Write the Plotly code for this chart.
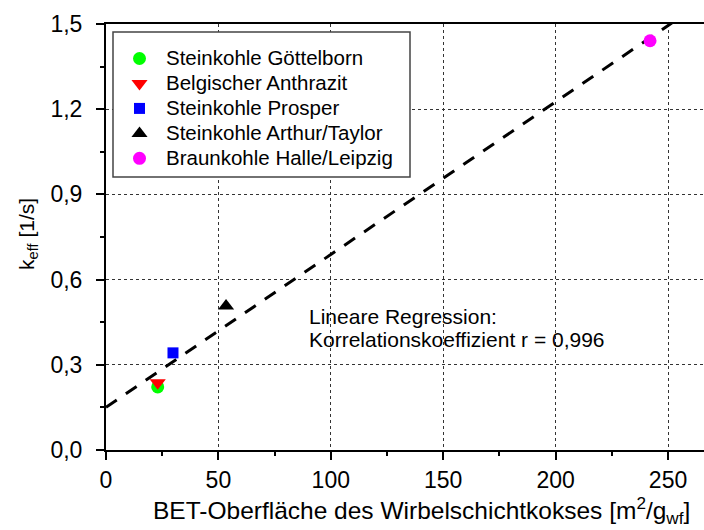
import numpy as np
import plotly.graph_objects as go

# ---- data ----
series_names = ["Steinkohle Göttelborn", "Belgischer Anthrazit", "Steinkohle Prosper",
                "Steinkohle Arthur/Taylor", "Braunkohle Halle/Leipzig"]
bet_surface = [23.0, 23.0, 29.8, 53.4, 242.0]      # m²/g_wf
k_eff = [0.222, 0.237, 0.342, 0.507, 1.441]          # 1/s
marker_symbols = ["circle", "triangle-down", "square", "triangle-up", "circle"]
marker_colors = ["#00FF00", "#FF0000", "#0000FF", "#000000", "#FF00FF"]
marker_sizes = [13, 14, 11, 14, 13]

x_ticks = [0, 50, 100, 150, 200, 250]
y_ticks = [0.0, 0.3, 0.6, 0.9, 1.2, 1.5]

FONT = "Liberation Sans, Arial, sans-serif"

# layout geometry (pixels)
W, H = 704, 530
ML, MR, MT, MB = 106, 0, 24, 80
PW, PH = W - ML - MR, H - MT - MB
XMAX, YMAX = 266, 1.5

def px_x(p):
    return (p - ML) / PW

def px_y(p):
    return (H - MB - p) / PH

fig = go.Figure()

# linear regression from data
slope, intercept = np.polyfit(bet_surface, k_eff, 1)
xr = np.array([0, XMAX])
fig.add_trace(go.Scatter(x=xr, y=intercept + slope * xr, mode="lines",
                         line=dict(color="black", width=3, dash="13px,11px"),
                         showlegend=False, hoverinfo="skip"))

for name, x, y, sym, col, sz in zip(series_names, bet_surface, k_eff,
                                     marker_symbols, marker_colors, marker_sizes):
    fig.add_trace(go.Scatter(x=[x], y=[y], mode="markers",
                             name=f"<span style='font-size:20.5px'>{name}</span>",
                             marker=dict(symbol=sym, color=col, size=sz,
                                         line=dict(width=0))))

axis_common = dict(showline=True, linecolor="black", linewidth=2,
                   ticks="outside", ticklen=8, tickwidth=2, tickcolor="black",
                   showgrid=True, gridcolor="#333", gridwidth=1, griddash="dot",
                   zeroline=False, tickfont=dict(family=FONT, size=23, color="black"))

fig.update_layout(
    width=W, height=H,
    margin=dict(l=ML, r=MR, t=MT, b=MB, pad=0),
    paper_bgcolor="white", plot_bgcolor="white",
    separators=",.",
    font=dict(family=FONT, color="black"),
    xaxis=dict(range=[0, XMAX], tickvals=x_ticks, mirror=True,
               minor=dict(dtick=25, ticklen=4, tickwidth=2, ticks="outside",
                          tickcolor="black", showgrid=False),
               **axis_common),
    yaxis=dict(range=[0, YMAX], tickvals=y_ticks, tickformat=".1f", mirror=False,
               ticklabelstandoff=9,
               minor=dict(dtick=0.15, ticklen=4, tickwidth=2, ticks="outside",
                          tickcolor="black", showgrid=False),
               **axis_common),
    legend=dict(x=px_x(113), y=px_y(41), xanchor="left", yanchor="top",
                bgcolor="rgba(0,0,0,0)", borderwidth=0,
                font=dict(family=FONT, size=16.9, color="black"),
                itemwidth=43, tracegroupgap=0),
    showlegend=True,
)

# legend frame
fig.add_shape(type="rect", xref="paper", yref="paper",
              x0=px_x(113), x1=px_x(410), y0=px_y(177), y1=px_y(32),
              line=dict(color="#444", width=1.5), fillcolor="white", layer="above")

# axis titles
fig.add_annotation(text="k<sub>eff</sub> [1/s]", xref="paper", yref="paper",
                   x=px_x(28), y=px_y(234), xanchor="center", yanchor="middle",
                   textangle=-90, showarrow=False,
                   font=dict(family=FONT, size=21, color="black"))
fig.add_annotation(text="BET-Oberfläche des Wirbelschichtkokses [m<sup>2</sup>/g<sub>wf</sub>]",
                   xref="paper", yref="paper",
                   x=px_x(421), y=px_y(510), xanchor="center", yanchor="middle",
                   showarrow=False, font=dict(family=FONT, size=24.5, color="black"))

# regression text
fig.add_annotation(text="Lineare Regression:", xref="paper", yref="paper",
                   x=px_x(307), y=px_y(316), xanchor="left", yanchor="middle",
                   showarrow=False, font=dict(family=FONT, size=21, color="black"))
fig.add_annotation(text="Korrelationskoeffizient r = 0,996", xref="paper", yref="paper",
                   x=px_x(307), y=px_y(339), xanchor="left", yanchor="middle",
                   showarrow=False, font=dict(family=FONT, size=21, color="black"))

fig.write_html("out.html")
